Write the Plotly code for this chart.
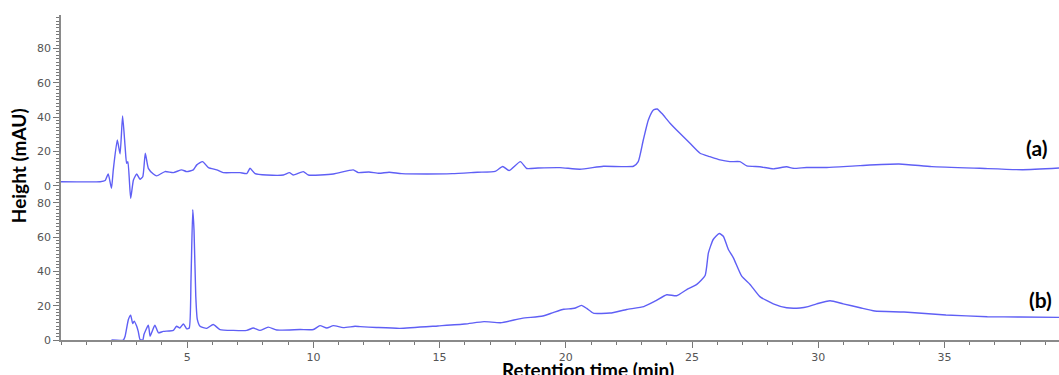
import plotly.graph_objects as go

# ---- data: chromatogram (a) (upper) ----
t_a = [0.0, 1.55, 1.75, 1.87, 2.0, 2.07, 2.23, 2.34, 2.44, 2.54, 2.60, 2.65, 2.76, 2.87, 3.0, 3.13,
       3.24, 3.34, 3.46, 3.66, 3.79, 4.12, 4.45, 4.78, 4.98, 5.24, 5.38, 5.61, 5.84, 6.17, 6.43,
       6.83, 7.09, 7.36, 7.49, 7.69, 8.15, 8.81, 9.05, 9.2, 9.6, 9.8, 10.79, 11.58, 11.78,
       12.2, 12.6, 13.0, 13.5, 14.5, 15.5, 16.5, 17.2, 17.5, 17.75, 18.2, 18.45, 18.9, 19.77,
       20.56, 21.49, 22.68, 22.87, 23.07, 23.27, 23.47, 23.62, 23.8, 24.13, 24.52, 24.92, 25.32,
       25.71, 26.11, 26.5, 26.9, 27.17, 27.69, 28.22, 28.75, 29.01, 29.54, 30.34, 31.66, 33.2,
       34.5, 36.4, 38.1, 39.6]
h_a = [2.3, 2.3, 3.0, 6.8, -1.5, 9.0, 26.6, 18.5, 40.6, 22.7, 13.0, 14.0, -7.4, 3.3, 6.8, 3.7,
       5.2, 18.9, 10.1, 6.8, 5.7, 8.2, 7.6, 9.2, 8.2, 9.2, 12.1, 14.0, 10.5, 9.2, 7.6,
       7.6, 7.6, 7.0, 10.1, 7.0, 6.2, 6.2, 7.6, 6.2, 8.2, 6.2, 6.8, 9.2, 7.6,
       8.0, 7.2, 7.8, 7.0, 6.8, 7.0, 7.8, 8.3, 11.2, 8.8, 14.0, 10.0, 10.3, 10.5,
       9.6, 11.3, 11.3, 14.0, 26.6, 38.3, 44.1, 44.7, 42.2, 36.4, 30.5, 24.7, 18.9,
       16.9, 15.0, 14.0, 14.0, 11.5, 11.0, 9.8, 11.0, 10.1, 10.6, 10.6, 11.7, 12.6,
       11.1, 10.1, 9.3, 10.3]

# ---- data: chromatogram (b) (lower) ----
t_b = [2.0, 2.47, 2.54, 2.67, 2.76, 2.84, 2.9, 3.0, 3.06, 3.13, 3.24, 3.29, 3.46, 3.53, 3.59,
       3.72, 3.86, 4.05, 4.45, 4.58, 4.71, 4.85, 4.98, 5.08, 5.15, 5.22, 5.27, 5.34, 5.4, 5.51,
       5.77, 6.03, 6.3, 6.83, 7.36, 7.62, 7.88, 8.21, 8.55, 9.47, 10.0, 10.26, 10.53, 10.79,
       11.18, 11.65, 11.85, 12.5, 13.43, 14.93, 16.0, 16.76, 17.42, 18.26, 19.09, 19.5, 19.92,
       20.34, 20.62, 20.83, 21.09, 21.75, 22.41, 23.09, 23.53, 24.0, 24.39, 24.79, 25.19, 25.52,
       25.65, 25.84, 26.08, 26.24, 26.44, 26.64, 26.97, 27.3, 27.69, 28.22, 28.75, 29.28, 29.6,
       29.94, 30.47, 30.99, 31.66, 32.24, 33.4, 35.06, 36.7, 38.0, 39.6]
h_b = [0.0, 0.0, 2.2, 12.0, 14.5, 9.6, 11.0, 8.0, 5.0, 0.3, 0.0, 3.3, 8.6, 2.2, 4.2,
       8.6, 4.2, 5.0, 5.6, 8.0, 7.0, 9.4, 6.5, 7.0, 35.0, 76.0, 64.0, 25.5, 12.0, 8.0,
       6.8, 9.0, 6.1, 5.6, 5.6, 7.0, 5.6, 7.5, 5.8, 6.1, 6.1, 8.4, 7.0, 8.4,
       7.2, 8.0, 7.8, 7.3, 6.8, 8.2, 9.3, 10.7, 10.1, 12.6, 14.0, 16.0, 17.9,
       18.5, 20.2, 18.4, 15.7, 15.7, 17.8, 19.5, 22.6, 26.4, 25.8, 29.4, 32.4, 37.6,
       50.8, 58.6, 62.1, 60.5, 52.8, 47.9, 37.2, 32.4, 25.3, 21.1, 18.8, 18.7, 19.5,
       21.1, 22.9, 21.1, 18.8, 16.9, 16.3, 14.6, 13.6, 13.4, 13.2]

x_ticks = [5, 10, 15, 20, 25, 30, 35]
y_ticks = [0, 20, 40, 60, 80]
labels = ["(a)", "(b)"]

line_color = "rgb(95,95,245)"
tick_font = dict(family="DejaVu Sans", size=11, color="#555555")

fig = go.Figure()
fig.add_trace(go.Scatter(x=t_b, y=h_b, mode="lines", yaxis="y",
                         line=dict(color=line_color, width=1.4, shape="spline", smoothing=0.5),
                         showlegend=False))
fig.add_trace(go.Scatter(x=t_a, y=h_a, mode="lines", yaxis="y2",
                         line=dict(color=line_color, width=1.4, shape="spline", smoothing=0.5),
                         showlegend=False))

axis_common = dict(showgrid=False, zeroline=False, showline=True, linecolor="#8a8a8a",
                   linewidth=1.5, ticks="outside", ticklen=6, tickwidth=1.2, tickcolor="#777777",
                   tickfont=tick_font, automargin=False)

fig.update_layout(
    width=1059, height=375,
    margin=dict(l=61, r=0, t=15, b=35),
    paper_bgcolor="white", plot_bgcolor="white",
    xaxis=dict(range=[0, 39.54], tickmode="array", tickvals=x_ticks,
               minor=dict(dtick=1, tick0=0, ticks="outside", ticklen=3, tickcolor="#777777"),
               **axis_common),
    yaxis=dict(range=[0, 189.5], tickmode="array", tickvals=y_ticks,
               minor=dict(dtick=2, tick0=0, ticks="outside", ticklen=3, tickcolor="#777777"),
               **axis_common),
    yaxis2=dict(range=[-90, 99.5], tickmode="array", tickvals=y_ticks, overlaying="y",
                side="left", anchor="x",
                minor=dict(dtick=2, tick0=0, ticks="outside", ticklen=3, tickcolor="#777777"),
                **axis_common),
)

fig.add_annotation(text="Height (mAU)", textangle=-90, xref="paper", yref="paper",
                   x=-0.043, y=0.535, showarrow=False, xanchor="center", yanchor="middle",
                   font=dict(family="Lato", size=19, color="black", weight="bold"))
fig.add_annotation(text="Retention time (min)", xref="paper", yref="paper",
                   x=0.528, y=-0.092, showarrow=False, xanchor="center", yanchor="middle",
                   font=dict(family="Lato", size=19, color="black", weight="bold"))
fig.add_annotation(text=labels[0], xref="paper", yref="paper", x=0.977, y=0.591,
                   showarrow=False, xanchor="center", yanchor="middle",
                   font=dict(family="Lato", size=21, color="black", weight="bold"))
fig.add_annotation(text=labels[1], xref="paper", yref="paper", x=0.981, y=0.126,
                   showarrow=False, xanchor="center", yanchor="middle",
                   font=dict(family="Lato", size=21, color="black", weight="bold"))

fig.write_html("out.html", config={"displayModeBar": False},
               post_script="document.body.style.margin='0';")
